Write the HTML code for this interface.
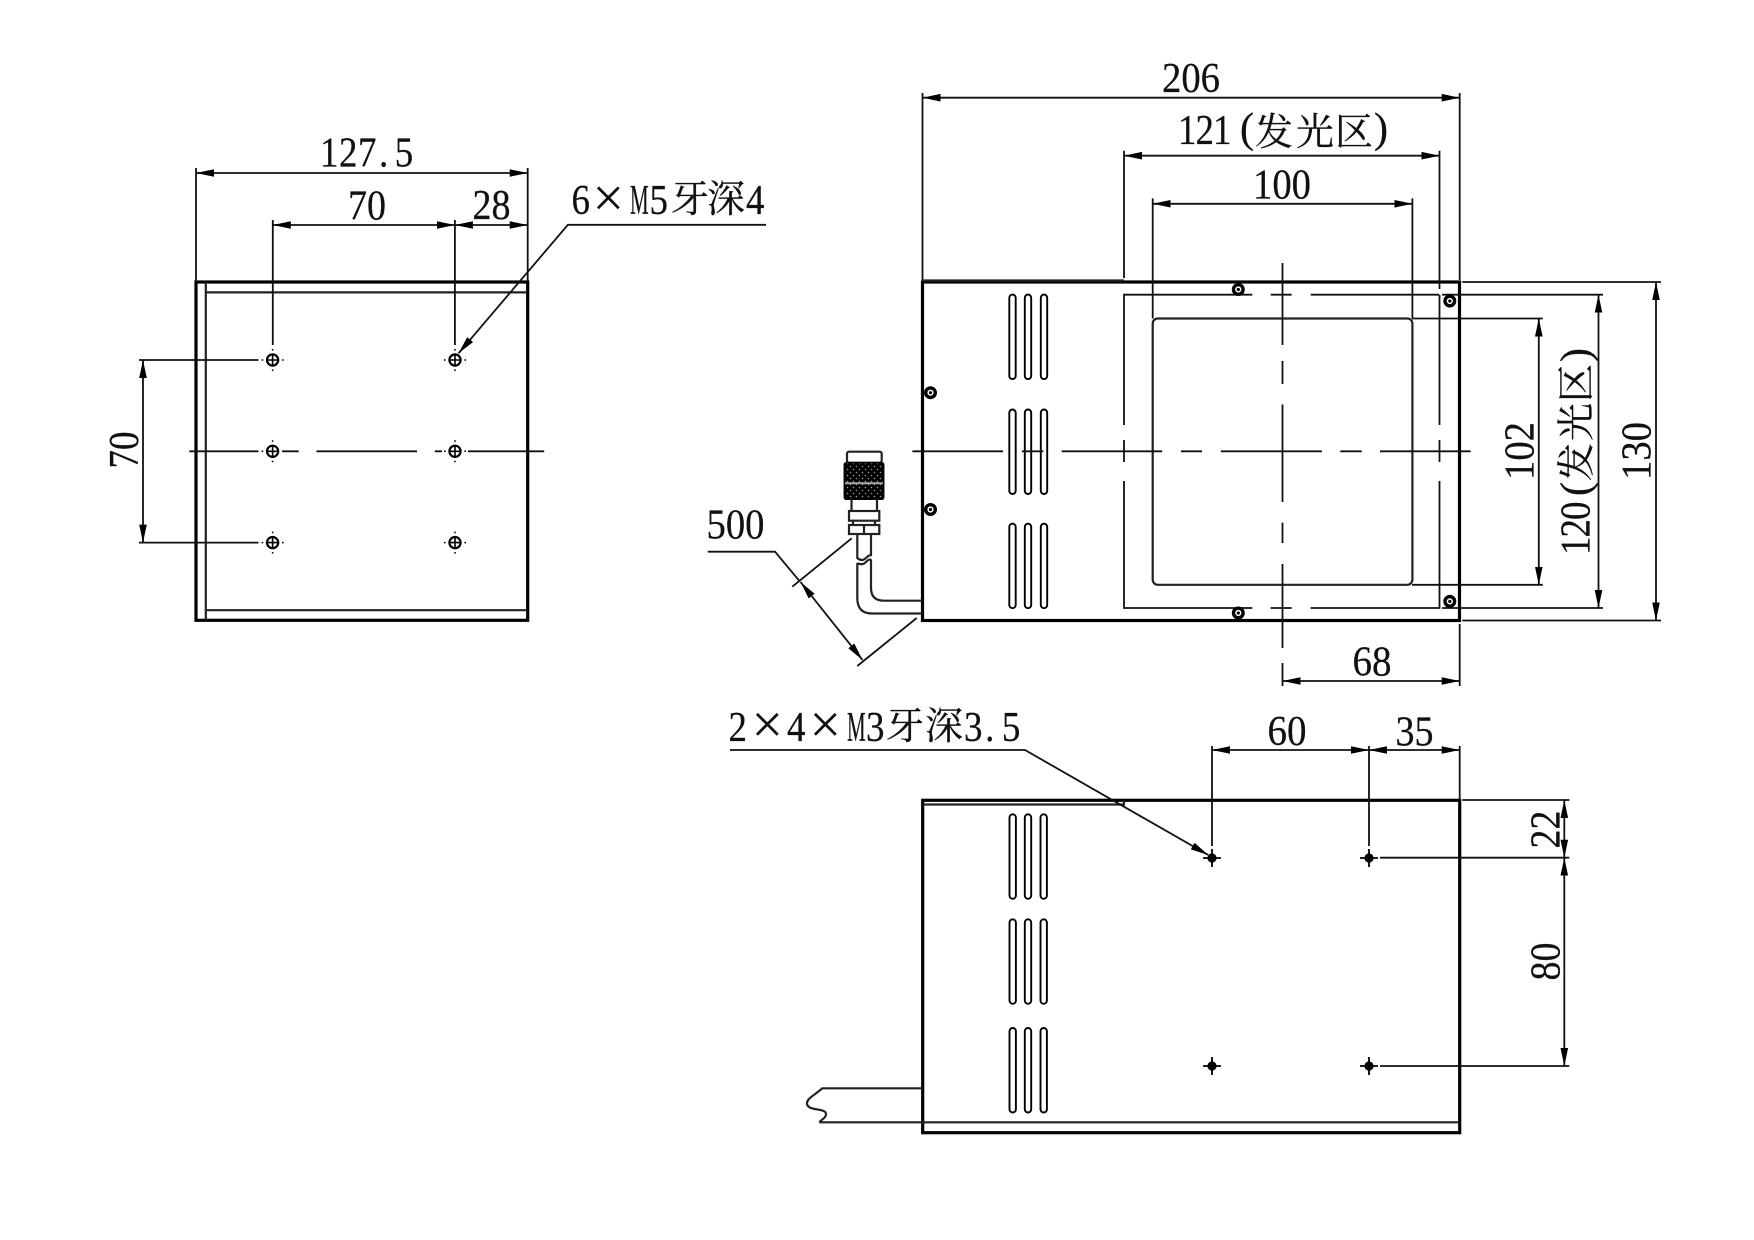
<!DOCTYPE html>
<html><head><meta charset="utf-8"><style>
html,body{margin:0;padding:0;background:#fff}
svg{display:block}
text{font-family:"Liberation Serif","Noto Serif CJK SC",serif;font-size:42px;fill:#111;stroke:#111;stroke-width:.25}
.c{font-family:"Liberation Serif","Noto Serif CJK SC",serif;font-size:38px}
.t{stroke:#111;stroke-width:1.8;fill:none}
.m{stroke:#222;stroke-width:2.2;fill:none}
.b{stroke:#000;stroke-width:3.2;fill:none}
.a{stroke:#111;stroke-width:1.8;fill:none;marker-start:url(#ar);marker-end:url(#ar)}
</style></head><body>
<svg width="1754" height="1240" viewBox="0 0 1754 1240" xmlns="http://www.w3.org/2000/svg">
<defs>
<marker id="ar" markerUnits="userSpaceOnUse" markerWidth="20" markerHeight="10" refX="18" refY="4" orient="auto-start-reverse"><path d="M0,0.2 L18,4 L0,7.8Z" fill="#000"/></marker>
<marker id="ae" markerUnits="userSpaceOnUse" markerWidth="20" markerHeight="10" refX="18" refY="4" orient="auto"><path d="M0,0.2 L18,4 L0,7.8Z" fill="#000"/></marker>
<pattern id="kn" width="6" height="6" patternUnits="userSpaceOnUse"><rect width="6" height="6" fill="#000"/><circle cx="1.5" cy="1.5" r=".8" fill="#999"/><circle cx="4.5" cy="4.5" r=".8" fill="#999"/></pattern>
<g id="hole"><circle r="5.6" fill="#fff" stroke="#000" stroke-width="2.2"/><path d="M-5.6,0H5.6M0,-5.6V5.6" stroke="#000" stroke-width="1.6"/><path d="M-11,0h1.6M9.4,0h1.6M0,-11v1.6M0,9.4v1.6" stroke="#000" stroke-width="1.5"/></g>
<g id="sc"><circle r="4.8" fill="none" stroke="#000" stroke-width="3.4"/><circle r="1.6" fill="#000"/></g>
<g id="ph"><circle r="3.2" fill="#444" stroke="#000" stroke-width="2.8"/><path d="M-9,0H9M0,-9V9" stroke="#000" stroke-width="1.8"/></g>
<rect id="v" x="-3.2" width="6.4" height="84.5" rx="3.2" fill="#fff" stroke="#000" stroke-width="1.9"/>
</defs>

<!-- LEFT VIEW -->
<rect class="b" x="196" y="282" width="331.7" height="338.3"/>
<path class="m" d="M205.8,282V620M206,292.4H527M206,610.2H527"/>
<path class="t" d="M196,168V282M527.7,168V282M272.8,220V345M454.9,220V345M139,360H258.5M139,542.6H258.5"/>
<path class="a" d="M196,173H527.7"/>
<path class="a" d="M272.8,225H454.9"/>
<path class="a" d="M454.9,225H527.7"/>
<path class="a" d="M143,360V542.6"/>
<path class="t" d="M189.3,451.3H258.5M283,451.3H298.7M316.5,451.3H417M434.8,451.3H442M468,451.3H475M475,451.3H544.2"/>
<use href="#hole" x="272.6" y="360"/><use href="#hole" x="455" y="360"/>
<use href="#hole" x="272.6" y="451.3"/><use href="#hole" x="455" y="451.3"/>
<use href="#hole" x="272.6" y="542.6"/><use href="#hole" x="455" y="542.6"/>
<polyline class="t" points="766,224.8 567.9,224.8 458.5,353.3" marker-end="url(#ae)"/>
<text transform="translate(320,166.5) scale(.88,1)" x="0 21.6 43.2 67 85">127.5</text>
<text x="348" y="219.5" textLength="38" lengthAdjust="spacingAndGlyphs">70</text>
<text x="472.5" y="219" textLength="38" lengthAdjust="spacingAndGlyphs">28</text>
<text transform="translate(138,468.5) rotate(-90)" textLength="37" lengthAdjust="spacingAndGlyphs">70</text>
<text transform="translate(571.5,214) scale(.88,1)">6</text>
<text x="592.5" y="216.5" style="font-size:56px;stroke-width:0">×</text>
<text transform="translate(630,214) scale(.5,1)">M</text>
<text transform="translate(649.5,214) scale(.88,1)">5</text>
<text class="c" x="671 707" y="212">牙深</text>
<text transform="translate(746,214) scale(.88,1)">4</text>

<!-- RIGHT VIEW -->
<rect class="b" x="922.5" y="282" width="537" height="338.5"/>
<path class="m" d="M922,280.5H1124"/>
<use href="#v" x="1012.5" y="294.6"/><use href="#v" x="1028" y="294.6"/><use href="#v" x="1044" y="294.6"/>
<use href="#v" x="1012.5" y="409.5"/><use href="#v" x="1028" y="409.5"/><use href="#v" x="1044" y="409.5"/>
<use href="#v" x="1012.5" y="523.7"/><use href="#v" x="1028" y="523.7"/><use href="#v" x="1044" y="523.7"/>
<path class="t" d="M1124,425V294.7H1252.3M1270.7,294.7H1291.7M1310.7,294.7H1439M1442,294.7H1603M1439.5,294.7V425M1124,440V462M1439.5,440V462M1124,481V608H1252.3M1270.7,608H1291.7M1310.7,608H1439.5V481M1442,608H1603"/>
<rect class="m" x="1152.7" y="318.5" width="259.7" height="266.3" rx="5"/>
<path class="t" d="M1412,318.5H1542.8M1412,584.8H1542.8M1462.3,282H1661M1462.3,620.5H1661M922.5,93V280M1124,150.7V278M1439.5,150.7V289M1459.7,93V280M1152.7,198.4V318.5M1412.4,198.4V318.5"/>
<path class="a" d="M922.5,97.7H1459.7"/>
<path class="a" d="M1124,155.7H1439.5"/>
<path class="a" d="M1152.7,203.8H1412.4"/>
<path class="a" d="M1282.5,681H1459.7"/>
<path class="t" d="M1282.5,663V686M1459.7,624V686"/>
<path class="a" d="M1538.8,318.5V584.8"/>
<path class="a" d="M1598.5,294.7V608"/>
<path class="a" d="M1656,282V620.5"/>
<path class="t" d="M912.4,451.3H1003M1021.9,451.3H1043.3M1061.7,451.3H1162.2M1181,451.3H1202M1220.9,451.3H1321.9M1340.3,451.3H1361.7M1380,451.3H1470.6"/>
<path class="t" d="M1282.5,263V345M1282.5,361V384M1282.5,404.5V502M1282.5,522.6V543M1282.5,564V648"/>
<use href="#sc" x="1238.3" y="289.5"/><use href="#sc" x="1449.8" y="301"/><use href="#sc" x="1449.8" y="601.4"/><use href="#sc" x="1238.3" y="613"/><use href="#sc" x="930.5" y="392.7"/><use href="#sc" x="930.5" y="509.5"/>
<text x="1162" y="92" textLength="58" lengthAdjust="spacingAndGlyphs">206</text>
<text transform="translate(1178,144) scale(.88,1)" x="0 19.9 39.8">121</text>
<text x="1240" y="142">(</text>
<text class="c" x="1255 1296 1335" y="145">发光区</text>
<text x="1374" y="142">)</text>
<text x="1253" y="198.5" textLength="58" lengthAdjust="spacingAndGlyphs">100</text>
<text x="1352.5" y="675.5" textLength="39" lengthAdjust="spacingAndGlyphs">68</text>
<text transform="translate(1533.5,480) rotate(-90)" textLength="58" lengthAdjust="spacingAndGlyphs">102</text>
<text transform="translate(1650.5,480) rotate(-90)" textLength="58" lengthAdjust="spacingAndGlyphs">130</text>
<g transform="translate(1589.5,555) rotate(-90)">
<text transform="scale(.88,1)" x="0 19.9 39.8">120</text>
<text x="59">(</text>
<text class="c" x="74 114 153">发光区</text>
<text x="193">)</text>
</g>

<!-- CONNECTOR -->
<rect class="m" x="847" y="451.7" width="34.7" height="11" rx="2"/>
<rect x="844.3" y="462.7" width="39.4" height="36.6" rx="2" fill="url(#kn)" stroke="#000" stroke-width="1.5"/>
<path d="M845,483.3H883" stroke="#aaa" stroke-width="2"/>
<path class="m" d="M851.5,499.3V511M877,499.3V511M853,520.7V525M875,520.7V525"/>
<rect class="m" x="849" y="511" width="30.3" height="9.7"/>
<rect class="m" x="849" y="525" width="30.3" height="9"/>
<path class="m" d="M864,525V534M857.3,534V558Q862,562 866,558T871,556V534"/>
<path class="m" d="M857.3,563Q862,566 866,562T871,560.5V588Q871,600.7 884,600.7H922M857.3,563V598Q857.3,613.5 872,613.5H922"/>
<path class="t" d="M851.7,538.3L792.3,586.7M916.7,618L857.3,666M707.7,551.7H775L800,581.7"/>
<path class="a" d="M800.5,582L862.5,660"/>
<text x="706.5" y="538.5" textLength="58" lengthAdjust="spacingAndGlyphs">500</text>

<!-- BOTTOM VIEW -->
<rect class="b" x="922.7" y="800.3" width="537" height="332.4"/>
<path class="m" d="M922.7,804.5H1124V800.5M922.7,1122.3H1459M819.3,1122.3H922.7"/>
<use href="#v" x="1012.7" y="814.3"/><use href="#v" x="1028" y="814.3"/><use href="#v" x="1043.7" y="814.3"/>
<use href="#v" x="1012.7" y="919.3"/><use href="#v" x="1028" y="919.3"/><use href="#v" x="1043.7" y="919.3"/>
<use href="#v" x="1012.7" y="1028"/><use href="#v" x="1028" y="1028"/><use href="#v" x="1043.7" y="1028"/>
<path class="m" d="M922.7,1088.3H822.3C815,1095 805,1099 807.3,1105C810,1111 826,1108 826,1114C826,1118 822,1119 819.3,1122.3"/>
<use href="#ph" x="1212" y="858"/><use href="#ph" x="1369" y="858"/><use href="#ph" x="1212" y="1066"/><use href="#ph" x="1369" y="1066"/>
<path class="t" d="M1212,746V846M1369,746V846M1459.7,746V799M1462.3,800H1569.3M1380,857.7H1569.3M1380,1066H1569.3"/>
<path class="a" d="M1212,750H1369"/>
<path class="a" d="M1369,750H1459.7"/>
<path class="a" d="M1564.3,800V857.7"/>
<path class="a" d="M1564.3,857.7V1066"/>
<polyline class="t" points="730,750 1025,750 1208.3,855" marker-end="url(#ae)"/>
<text x="1267.5" y="745" textLength="39" lengthAdjust="spacingAndGlyphs">60</text>
<text x="1395.5" y="745.5" textLength="38" lengthAdjust="spacingAndGlyphs">35</text>
<text transform="translate(1559.5,848.5) rotate(-90)" textLength="38" lengthAdjust="spacingAndGlyphs">22</text>
<text transform="translate(1559.5,980.5) rotate(-90)" textLength="38" lengthAdjust="spacingAndGlyphs">80</text>
<text transform="translate(728.5,741) scale(.88,1)">2</text>
<text x="751.5" y="743" style="font-size:56px;stroke-width:0">×</text>
<text transform="translate(787,741) scale(.88,1)">4</text>
<text x="809.5" y="743" style="font-size:56px;stroke-width:0">×</text>
<text transform="translate(847,741) scale(.5,1)">M</text>
<text transform="translate(866,741) scale(.88,1)">3</text>
<text class="c" x="886 925" y="739">牙深</text>
<text transform="translate(964,741) scale(.88,1)" x="0 24 43">3.5</text>
</svg>
</body></html>
